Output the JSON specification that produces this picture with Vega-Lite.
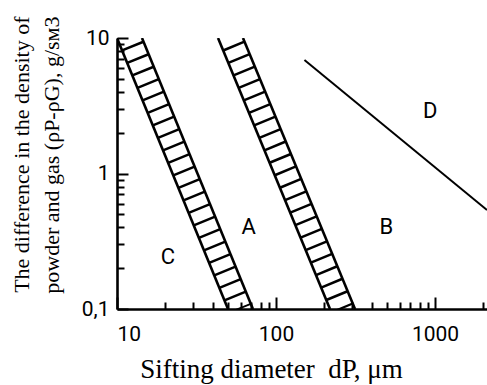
{
  "$schema": "https://vega.github.io/schema/vega-lite/v6.json",
  "width": 370,
  "height": 271,
  "autosize": {"type": "none"},
  "padding": {"left": 117, "top": 38, "right": 0, "bottom": 76},
  "background": "white",
  "config": {"view": {"stroke": null}, "axis": {"grid": false}},
  "datasets": {
    "edges": [
      {"seg": "1L", "x": 10, "y": 10}, {"seg": "1L", "x": 49.9, "y": 0.1},
      {"seg": "1R", "x": 14.36, "y": 10}, {"seg": "1R", "x": 71.6, "y": 0.1},
      {"seg": "2L", "x": 43.2, "y": 10}, {"seg": "2L", "x": 218.6, "y": 0.1},
      {"seg": "2R", "x": 62.0, "y": 10}, {"seg": "2R", "x": 314, "y": 0.1}
    ],
    "lineD": [
      {"seg": "D", "x": 151, "y": 6.88}, {"seg": "D", "x": 2124, "y": 0.538}
    ],
    "hatch": [
      {"band": "1", "x": 11.98, "y": 10}, {"band": "1", "x": 59.8, "y": 0.1},
      {"band": "2", "x": 51.75, "y": 10}, {"band": "2", "x": 262, "y": 0.1}
    ],
    "labels": [
      {"t": "A", "x": 67.3, "y": 0.40},
      {"t": "B", "x": 494, "y": 0.40},
      {"t": "C", "x": 20.9, "y": 0.242},
      {"t": "D", "x": 933, "y": 2.89}
    ]
  },
  "resolve": {"axis": {"x": "independent", "y": "independent"}},
  "layer": [
    {
      "data": {"name": "hatch"},
      "mark": {"type": "line", "color": "black", "strokeWidth": 23, "strokeDash": [2.5, 11], "strokeDashOffset": 6, "strokeCap": "butt", "clip": true},
      "encoding": {
        "x": {
          "field": "x", "type": "quantitative",
          "scale": {"type": "log", "domain": [10, 2124], "nice": false},
          "axis": {
            "orient": "bottom",
            "values": [10, 100, 1000],
            "labelExpr": "datum.value == 10 ? '10' : datum.value == 100 ? '100' : '1000'",
            "labelFlush": true,
            "labelFont": "Roboto", "labelFontSize": 21, "labelColor": "black", "labelPadding": 26,
            "tickSize": -12, "tickColor": "black", "tickWidth": 2,
            "domainColor": "black", "domainWidth": 2.6,
            "title": "Sifting diameter\u00a0\u00a0dP, μm",
            "titleFont": "Liberation Serif", "titleFontSize": 27, "titleFontWeight": "normal", "titleColor": "black",
            "titleX": 154, "titleY": 68, "titleBaseline": "alphabetic", "titleAlign": "center"
          }
        },
        "y": {
          "field": "y", "type": "quantitative",
          "scale": {"type": "log", "domain": [0.1, 10], "nice": false},
          "axis": {
            "orient": "left",
            "values": [0.1, 1, 10],
            "labelExpr": "datum.value == 0.1 ? '0,1' : datum.value == 1 ? '1' : '10'",
            "labelFont": "Roboto", "labelFontSize": 21, "labelColor": "black", "labelPadding": 19,
            "tickSize": -11, "tickColor": "black", "tickWidth": 2,
            "domainColor": "black", "domainWidth": 2.6,
            "title": ["The difference in the density of", "powder and gas (ρP-ρG), g/sм3"],
            "titleFont": "Liberation Serif", "titleFontSize": 22, "titleFontWeight": "normal", "titleColor": "black",
            "titleAngle": -90, "titleAlign": "right", "titleBaseline": "top", "titleLineHeight": 30,
            "titleX": -106, "titleY": -22
          }
        },
        "detail": {"field": "band"}
      }
    },
    {
      "data": {"name": "edges"},
      "mark": {"type": "line", "color": "black", "strokeWidth": 2.6, "clip": true},
      "encoding": {
        "x": {
          "field": "x", "type": "quantitative",
          "scale": {"type": "log", "domain": [10, 2124], "nice": false},
          "axis": {
            "orient": "bottom",
            "values": [20, 30, 40, 50, 60, 70, 80, 90, 200, 300, 400, 500, 600, 700, 800, 900, 2000],
            "labels": false, "domain": false, "title": null,
            "tickSize": -7, "tickColor": "black", "tickWidth": 2
          }
        },
        "y": {
          "field": "y", "type": "quantitative",
          "scale": {"type": "log", "domain": [0.1, 10], "nice": false},
          "axis": {
            "orient": "left",
            "values": [0.2, 0.3, 0.4, 0.5, 0.6, 0.7, 0.8, 0.9, 2, 3, 4, 5, 6, 7, 8, 9],
            "labels": false, "domain": false, "title": null,
            "tickSize": -7, "tickColor": "black", "tickWidth": 2
          }
        },
        "detail": {"field": "seg"}
      }
    },
    {
      "data": {"name": "lineD"},
      "mark": {"type": "line", "color": "black", "strokeWidth": 2, "clip": true},
      "encoding": {
        "x": {"field": "x", "type": "quantitative", "axis": null},
        "y": {"field": "y", "type": "quantitative", "axis": null},
        "detail": {"field": "seg"}
      }
    },
    {
      "data": {"name": "labels"},
      "mark": {"type": "text", "font": "Roboto", "fontSize": 22, "color": "black", "align": "center", "baseline": "middle"},
      "encoding": {
        "x": {"field": "x", "type": "quantitative", "axis": null},
        "y": {"field": "y", "type": "quantitative", "axis": null},
        "text": {"field": "t"}
      }
    }
  ]
}
